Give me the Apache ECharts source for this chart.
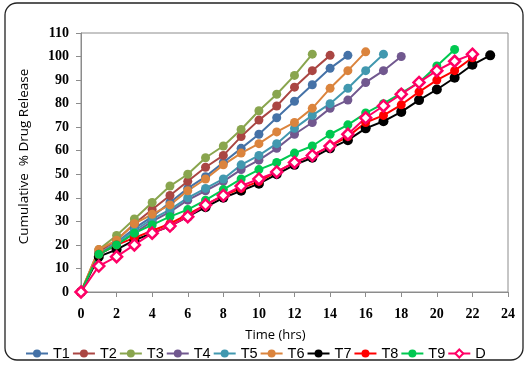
<!DOCTYPE html>
<html>
<head>
<meta charset="utf-8">
<script src="https://cdn.jsdelivr.net/npm/echarts@6/dist/echarts.min.js"></script>
<style>
    html, body { margin: 0; padding: 0; background: #fff; }
    #cn { width: 527px; height: 376px; }
</style>
</head>
<body>
<div id="cn"></div>
<script>
'use strict';

// time points (hrs)
const hours = [0, 1, 2, 3, 4, 5, 6, 7, 8, 9, 10, 11, 12, 13, 14, 15, 16, 17, 18, 19, 20, 21, 22, 23];

// cumulative % drug release, one array per formulation
const T1 = [0, 16, 21, 27, 32, 38, 44, 49, 55, 61, 67, 74, 81, 88, 95, 100.5];
const T2 = [0, 17, 22, 29, 35, 41, 47, 53, 58, 66, 73, 79, 87, 94, 100.5];
const T3 = [0, 18, 24, 31, 38, 45, 50, 57, 62, 69, 77, 84, 92, 101];
const T4 = [0, 16, 20, 25, 30, 34, 39, 43, 47, 52, 56, 61, 67, 72, 78, 81.5, 89, 94, 100];
const T5 = [0, 16, 21, 26, 31, 35, 40, 44, 48, 54, 58, 63, 69.5, 75, 80, 86.5, 94, 101];
const T6 = [0, 18, 22, 29, 33, 37, 43, 48, 54, 59, 63, 68, 72, 78, 86.5, 94, 102];
const T7 = [0, 15, 18, 22, 25, 28, 32, 36, 40, 43, 46, 50, 54, 57, 61, 64.5, 69.5, 72.5, 76.5, 81.5, 86, 91, 96.5, 100.5];
const T8 = [0, 16, 20, 23, 26, 29, 33, 37, 41, 44, 47, 51, 55, 58, 62, 66, 72, 75, 79.5, 85, 90, 94, 99.5];
const T9 = [0, 16, 20, 25, 28.5, 32, 35, 39, 43.5, 48, 52, 55, 59, 62, 67, 71, 76, 80, 84.5, 89, 96, 103];
const D = [0, 11, 15, 20, 25, 28, 32, 37, 41, 45, 48, 51, 55, 58, 62, 67, 74, 79, 84, 89, 94, 98, 101];

const xTicks = [0, 2, 4, 6, 8, 10, 12, 14, 16, 18, 20, 22, 24];
const yTicks = [0, 10, 20, 30, 40, 50, 60, 70, 80, 90, 100, 110];

const seriesDefs = [
    { name: 'T1', data: T1, color: '#4572A7' },
    { name: 'T2', data: T2, color: '#AA4643' },
    { name: 'T3', data: T3, color: '#89A54E' },
    { name: 'T4', data: T4, color: '#71588F' },
    { name: 'T5', data: T5, color: '#4198AF' },
    { name: 'T6', data: T6, color: '#DB843D' },
    { name: 'T7', data: T7, color: '#000000' },
    { name: 'T8', data: T8, color: '#FF0000' },
    { name: 'T9', data: T9, color: '#00C850' },
    { name: 'D', data: D, color: '#FF0066', hollow: true }
];

const toPairs = arr => arr.map((v, i) => [hours[i], v]);

const pandaChart = echarts.init(document.getElementById('cn'));

const labelFont = {
    fontFamily: 'Liberation Serif',
    fontWeight: 'bold',
    fontSize: 14,
    color: '#000'
};

let option = {
    animation: false,
    grid: {
        left: 81,
        right: 19,
        top: 33,
        bottom: 84,
        show: true,
        borderColor: '#8c8c8c',
        borderWidth: 1
    },
    xAxis: {
        type: 'value',
        min: xTicks[0],
        max: xTicks[xTicks.length - 1],
        interval: 2,
        name: 'Time (hrs)',
        nameLocation: 'middle',
        nameGap: 37,
        nameTextStyle: {
            fontFamily: 'Open Sans',
            fontSize: 13,
            color: '#000',
            padding: [0, 38, 0, 0]
        },
        splitLine: { show: false },
        axisLine: { lineStyle: { color: '#8c8c8c' } },
        axisTick: { show: true, length: 5, lineStyle: { color: '#8c8c8c' } },
        axisLabel: Object.assign({ margin: 15 }, labelFont)
    },
    yAxis: {
        type: 'value',
        min: yTicks[0],
        max: yTicks[yTicks.length - 1],
        interval: 10,
        name: 'Cumulative  % Drug Release',
        nameLocation: 'middle',
        nameGap: 50,
        nameTextStyle: {
            fontFamily: 'Open Sans',
            fontSize: 13.5,
            color: '#000',
            padding: [0, 0, 0, 12]
        },
        splitLine: { show: false },
        axisLine: { show: true, lineStyle: { color: '#8c8c8c' } },
        axisTick: { show: true, length: 5, lineStyle: { color: '#8c8c8c' } },
        axisLabel: Object.assign({ margin: 12 }, labelFont)
    },
    legend: {
        data: seriesDefs.map(s => s.name),
        top: 341,
        left: 20,
        width: 507,
        itemWidth: 22,
        itemHeight: 10,
        itemGap: 2,
        textStyle: {
            fontFamily: 'Liberation Sans',
            fontSize: 14.5,
            color: '#000'
        }
    },
    graphic: [{
        type: 'rect',
        shape: { x: 5, y: 3, width: 518, height: 357, r: 12 },
        style: { fill: 'none', stroke: '#222', lineWidth: 1.3 },
        silent: true,
        z: -1
    }],
    series: seriesDefs.map(s => ({
        name: s.name,
        type: 'line',
        data: toPairs(s.data),
        symbol: s.hollow ? 'diamond' : 'circle',
        symbolSize: s.hollow ? 11 : (s.name === 'T7' ? 10 : 9),
        showSymbol: true,
        lineStyle: { width: 2, color: s.color },
        itemStyle: s.hollow
            ? { color: '#fff', borderColor: s.color, borderWidth: 2.5 }
            : { color: s.color, borderWidth: 0 }
    }))
};

pandaChart.setOption(option);
</script>
</body>
</html>
